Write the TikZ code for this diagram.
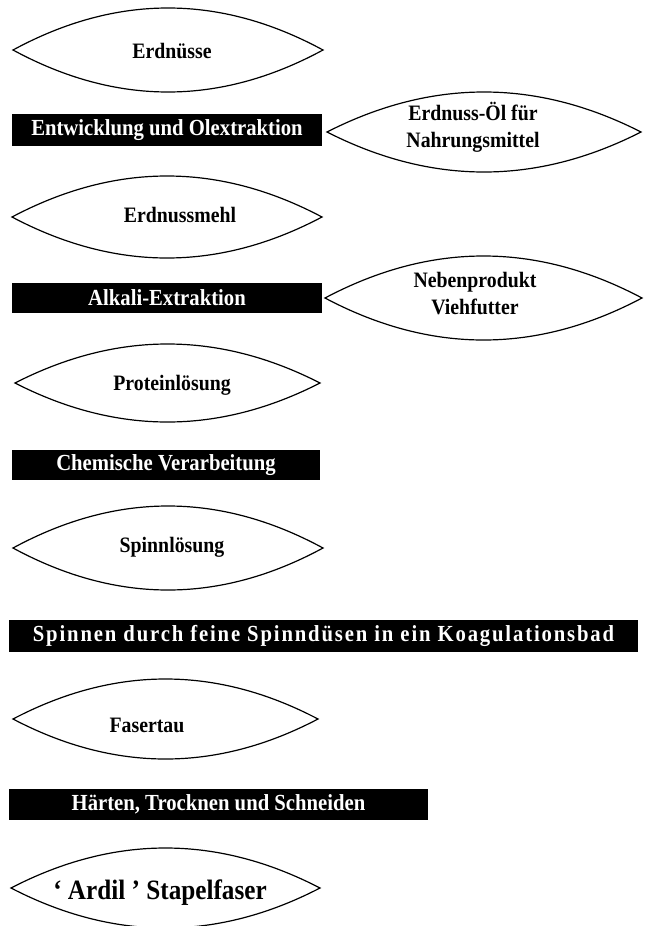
\documentclass[tikz,border=0pt]{standalone}
\usepackage{fontspec}
\setmainfont{Liberation Serif}[FakeStretch=0.9]
\newfontfamily\spacedfont{Liberation Serif}[FakeStretch=0.9,LetterSpace=8]
\newcommand\mylens[4]{%
  \draw[lensline] (#1,#3) .. controls ({#1+(#2-#1)/3},{#3-4*#4/3}) and ({#2-(#2-#1)/3},{#3-4*#4/3}) .. (#2,#3)
     .. controls ({#2-(#2-#1)/3},{#3+4*#4/3}) and ({#1+(#2-#1)/3},{#3+4*#4/3}) .. cycle;}
\tikzset{
  lensline/.style={line width=1.2pt, black},
  lenstext/.style={font=\fontsize{22}{27}\selectfont\bfseries, align=center, inner sep=0pt},
  barbox/.style={fill=black, text=white, inner sep=0pt, font=\fontsize{23}{26}\selectfont\bfseries},
}
\begin{document}
\begin{tikzpicture}[x=1pt,y=-1pt]
\useasboundingbox[fill=white] (0,0) rectangle (648,926);
% lenses
\mylens{13}{323}{50}{42}
\node[lenstext] (erdnuesse) at (172,51) {Erdnüsse};
\mylens{327}{641}{132}{40}
\node[lenstext] (oel) at (473,127) {Erdnuss-Öl für\\Nahrungsmittel};
\mylens{12}{322}{217}{41}
\node[lenstext] (mehl) at (180,215) {Erdnussmehl};
\mylens{325}{642}{298}{42}
\node[lenstext] (vieh) at (475,294) {Nebenprodukt\\Viehfutter};
\mylens{15}{320}{383}{39}
\node[lenstext] (protein) at (172,385) {Proteinlösung};
\mylens{13}{323}{548}{42}
\node[lenstext] (spinnl) at (172,547) {Spinnlösung};
\mylens{13}{318}{719}{40}
\node[lenstext] (fasertau) at (147,725) {Fasertau};
\mylens{11}{320}{888}{40}
\node[lenstext, font=\fontsize{28}{32}\selectfont\bfseries] (ardil) at (160,893) {‘ Ardil ’ Stapelfaser};
% bars
\node[barbox, minimum width=310pt, minimum height=32pt] (bar1) at (167,130) {Entwicklung und Olextraktion};
\node[barbox, minimum width=310pt, minimum height=30pt] (bar2) at (167,298) {Alkali-Extraktion};
\node[barbox, minimum width=308pt, minimum height=30pt] (bar3) at (166,465) {Chemische Verarbeitung};
\node[barbox, minimum width=629pt, minimum height=32pt, font=\fontsize{23}{26}\spacedfont\bfseries] (bar4) at (323.5,636) {Spinnen durch feine Spinndüsen in ein Koagulationsbad};
\node[barbox, minimum width=419pt, minimum height=31pt] (bar5) at (218.5,804.5) {Härten, Trocknen und Schneiden};
\end{tikzpicture}
\end{document}
